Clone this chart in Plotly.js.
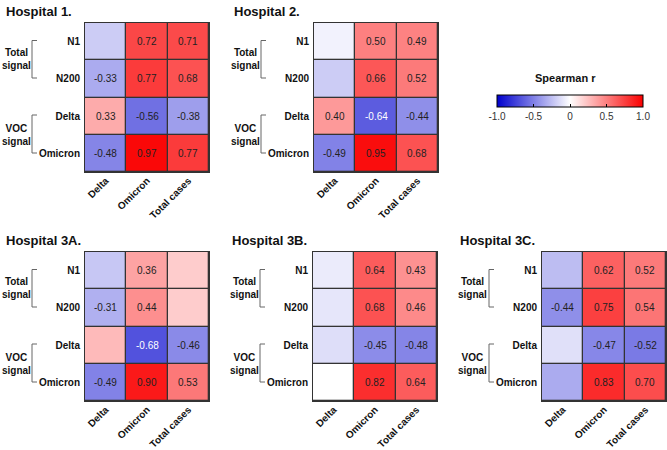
<!DOCTYPE html>
<html>
<head>
<meta charset="utf-8">
<script src="https://cdn.plot.ly/plotly-3.0.1.min.js"></script>
<style>html,body{margin:0;padding:0;background:#fff;}#chart{width:667px;height:450px;}</style>
</head>
<body>
<div id="chart"></div>
<script>
// ---- data ----
const rows = ['N1', 'N200', 'Delta', 'Omicron'];
const cols = ['Delta', 'Omicron', 'Total cases'];
const titles = ['Hospital 1.', 'Hospital 2.', 'Hospital 3A.', 'Hospital 3B.', 'Hospital 3C.'];
const groupLabels = ['Total<br>signal', 'VOC<br>signal'];
// Spearman r, rows x cols
const h1  = [[-0.20, 0.72, 0.71], [-0.33, 0.77, 0.68], [0.33, -0.56, -0.38], [-0.48, 0.97, 0.77]];
const h2  = [[-0.05, 0.50, 0.49], [-0.20, 0.66, 0.52], [0.40, -0.64, -0.44], [-0.49, 0.95, 0.68]];
const h3a = [[-0.22, 0.36, 0.20], [-0.31, 0.44, 0.20], [0.27, -0.68, -0.46], [-0.49, 0.90, 0.53]];
const h3b = [[-0.08, 0.64, 0.43], [-0.10, 0.68, 0.46], [-0.13, -0.45, -0.48], [0.00, 0.82, 0.64]];
const h3c = [[-0.26, 0.62, 0.52], [-0.44, 0.75, 0.54], [-0.12, -0.47, -0.52], [-0.33, 0.83, 0.70]];
// 1 = value printed in the cell
const s1  = [[0, 1, 1], [1, 1, 1], [1, 1, 1], [1, 1, 1]];
const s2  = [[0, 1, 1], [0, 1, 1], [1, 1, 1], [1, 1, 1]];
const s3a = [[0, 1, 0], [1, 1, 0], [0, 1, 1], [1, 1, 1]];
const s3b = [[0, 1, 1], [0, 1, 1], [0, 1, 1], [0, 1, 1]];
const s3c = [[0, 1, 1], [1, 1, 1], [0, 1, 1], [0, 1, 1]];
const cbTitle = 'Spearman r';
const cbTickVals = [-1, -0.5, 0, 0.5, 1];
const cbTickText = ['-1.0', '-0.5', '0', '0.5', '1.0'];

const values = [h1, h2, h3a, h3b, h3c];
const sig = [s1, s2, s3a, s3b, s3c];

// ---- layout geometry (pixels) ----
const W = 667, H = 450;
const panelLeft = [85, 314, 85, 313, 542];
const panelTop = [23, 23, 252, 252, 252];
const panelW = 124, panelH = 149;
const titleX = [4, 232, 4, 230, 458];
const px = x => x / W;
const py = y => 1 - y / H;

const FONT = 'Liberation Sans, Arial, sans-serif';
const colorscale = [[0, 'rgb(0,0,205)'], [0.5, 'rgb(255,255,255)'], [1, 'rgb(250,0,0)']];

const data = [];
const layout = {
  width: W, height: H,
  margin: {l: 0, r: 0, t: 0, b: 0},
  paper_bgcolor: '#ffffff',
  plot_bgcolor: '#333333',
  showlegend: false,
  font: {family: FONT, color: '#222'},
  annotations: [],
  shapes: []
};

values.forEach((z, i) => {
  const n = i === 0 ? '' : String(i + 1);
  const tr = {
    type: 'heatmap',
    x: cols, y: rows, z: z,
    xaxis: 'x' + n, yaxis: 'y' + n,
    zmin: -1, zmax: 1,
    colorscale: colorscale,
    xgap: 1.3, ygap: 1.3,
    hoverinfo: 'skip',
    showscale: i === 0
  };
  if (i === 0) {
    tr.colorbar = {
      orientation: 'h',
      x: 570 / W, xanchor: 'center',
      y: py(95), yanchor: 'top',
      len: 146 / W, lenmode: 'fraction',
      thickness: 12,
      xpad: 0, ypad: 0,
      outlinewidth: 1, outlinecolor: '#000',
      ticks: 'inside', ticklen: 3, tickcolor: '#000',
      tickvals: cbTickVals, ticktext: cbTickText,
      tickfont: {family: FONT, size: 10, color: '#333'},
      title: {text: ''}
    };
  }
  data.push(tr);

  const L = panelLeft[i], T = panelTop[i];
  layout['xaxis' + n] = {
    domain: [px(L), px(L + panelW)],
    anchor: 'y' + n,
    tickangle: -45,
    tickfont: {family: FONT, size: 10, weight: 'bold', color: '#111'},
    ticks: '',
    ticklabelstandoff: -2,
    showline: true, mirror: true, linecolor: '#333', linewidth: 1,
    showgrid: false, zeroline: false, fixedrange: true
  };
  layout['yaxis' + n] = {
    domain: [py(T + panelH), py(T)],
    anchor: 'x' + n,
    autorange: 'reversed',
    tickfont: {family: FONT, size: 10, weight: 'bold', color: '#111'},
    ticks: '',
    ticklabelstandoff: 2,
    showline: true, mirror: true, linecolor: '#333', linewidth: 1,
    showgrid: false, zeroline: false, fixedrange: true
  };

  // cell value labels
  z.forEach((row, r) => {
    row.forEach((v, c) => {
      if (!sig[i][r][c]) return;
      layout.annotations.push({
        xref: 'x' + n, yref: 'y' + n,
        x: cols[c], y: rows[r],
        text: v.toFixed(2),
        showarrow: false,
        font: {family: FONT, size: 10, color: v < -0.6 ? '#ffffff' : '#222'}
      });
    });
  });

  // panel title
  layout.annotations.push({
    xref: 'paper', yref: 'paper',
    x: px(titleX[i]), y: py(T - 12),
    xanchor: 'left', yanchor: 'middle',
    text: titles[i], showarrow: false,
    font: {family: FONT, size: 13, weight: 'bold', color: '#111'}
  });

  // group labels + brackets
  const groups = [[T + 17.5, T + 55, T + 36], [T + 92, T + 130, T + 112]];
  groups.forEach((g, k) => {
    const bx = L - 53;
    layout.shapes.push({
      type: 'path', xref: 'paper', yref: 'paper',
      path: `M ${px(bx + 5)} ${py(g[0])} L ${px(bx)} ${py(g[0])} L ${px(bx)} ${py(g[1])} L ${px(bx + 5)} ${py(g[1])}`,
      line: {color: '#666', width: 1}
    });
    layout.annotations.push({
      xref: 'paper', yref: 'paper',
      x: px(L - 69), y: py(g[2]),
      xanchor: 'center', yanchor: 'middle', align: 'center',
      text: groupLabels[k], showarrow: false,
      font: {family: FONT, size: 10, weight: 'bold', color: '#111'}
    });
  });
});

// colorbar title
layout.annotations.push({
  xref: 'paper', yref: 'paper',
  x: px(565), y: py(78),
  xanchor: 'center', yanchor: 'middle',
  text: cbTitle, showarrow: false,
  font: {family: FONT, size: 11, weight: 'bold', color: '#111'}
});

Plotly.newPlot('chart', data, layout, {displayModeBar: false, staticPlot: true});
</script>
</body>
</html>
